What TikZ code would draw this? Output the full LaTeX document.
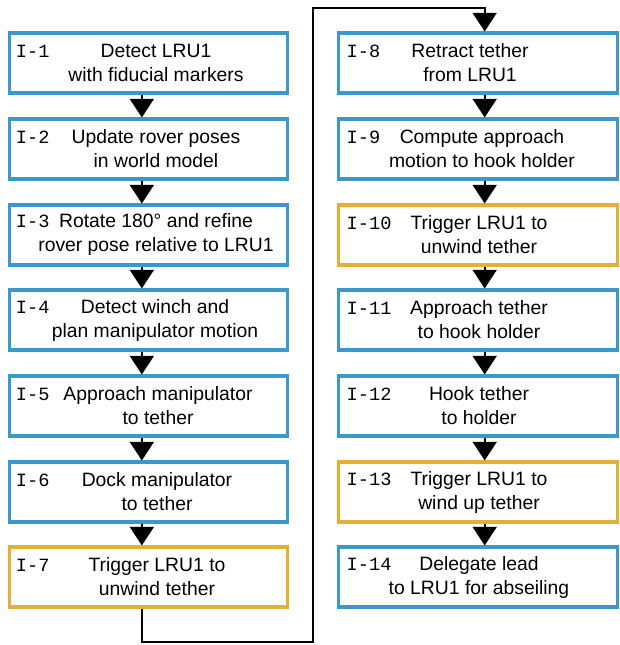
\documentclass[tikz,border=0pt]{standalone}
\usepackage{fontspec}
\setmainfont{Liberation Sans}
\setmonofont{Liberation Mono}
\usetikzlibrary{arrows.meta}
\definecolor{stepblue}{RGB}{58,152,204}
\definecolor{stepgold}{RGB}{228,176,52}
\begin{document}
\begin{tikzpicture}[x=0.75pt,y=-0.75pt,
  stepbox/.style={draw=stepblue,line width=2.3pt,minimum width=209pt,minimum height=45pt,inner sep=0pt},
  trigbox/.style={stepbox,draw=stepgold},
  steptxt/.style={align=center,inner sep=0pt,font=\fontsize{14.5}{18}\selectfont},
  steplbl/.style={anchor=base west,inner sep=0pt,font=\fontsize{14}{18}\ttfamily},
  flow/.style={line width=1.5pt,-{Triangle[width=18pt,length=14pt]}}]
\useasboundingbox (0,0) rectangle (619,645);
% left column
\node[stepbox] (b1) at (148.5,63) {}; \node[steptxt] (t1) at (156,63) {Detect LRU1\\with fiducial markers};
\node[stepbox] (b2) at (148.5,149) {}; \node[steptxt] (t2) at (156,149) {Update rover poses\\in world model};
\node[stepbox] (b3) at (148.5,235) {}; \node[steptxt] (t3) at (156,235) {Rotate 180° and refine\\rover pose relative to LRU1};
\node[stepbox] (b4) at (148.5,320) {}; \node[steptxt] (t4) at (155,320) {Detect winch and\\plan manipulator motion};
\node[stepbox] (b5) at (148.5,406) {}; \node[steptxt] (t5) at (158,406) {Approach manipulator\\to tether};
\node[stepbox] (b6) at (148.5,492) {}; \node[steptxt] (t6) at (157,492) {Dock manipulator\\to tether};
\node[trigbox] (b7) at (148.5,577) {}; \node[steptxt] (t7) at (157,577) {Trigger LRU1 to\\unwind tether};
% right column
\node[stepbox] (b8) at (478,63) {}; \node[steptxt] (t8) at (470,63) {Retract tether\\from LRU1};
\node[stepbox] (b9) at (478,149) {}; \node[steptxt] (t9) at (482,149) {Compute approach\\motion to hook holder};
\node[trigbox] (b10) at (478,235) {}; \node[steptxt] (t10) at (479,235) {Trigger LRU1 to\\unwind tether};
\node[stepbox] (b11) at (478,320) {}; \node[steptxt] (t11) at (479,320) {Approach tether\\to hook holder};
\node[stepbox] (b12) at (478,406) {}; \node[steptxt] (t12) at (479,406) {Hook tether\\to holder};
\node[trigbox] (b13) at (478,492) {}; \node[steptxt] (t13) at (479,492) {Trigger LRU1 to\\wind up tether};
\node[stepbox] (b14) at (478,577) {}; \node[steptxt] (t14) at (479,577) {Delegate lead\\to LRU1 for abseiling};
% step ids, on the first text line
\node[steplbl] (l1) at ([xshift=6pt,yshift=18pt]t1.base -| b1.west) {I-1}; \node[steplbl] (l2) at ([xshift=6pt,yshift=18pt]t2.base -| b2.west) {I-2};
\node[steplbl] (l3) at ([xshift=6pt,yshift=18pt]t3.base -| b3.west) {I-3}; \node[steplbl] (l4) at ([xshift=6pt,yshift=18pt]t4.base -| b4.west) {I-4};
\node[steplbl] (l5) at ([xshift=6pt,yshift=18pt]t5.base -| b5.west) {I-5}; \node[steplbl] (l6) at ([xshift=6pt,yshift=18pt]t6.base -| b6.west) {I-6};
\node[steplbl] (l7) at ([xshift=6pt,yshift=18pt]t7.base -| b7.west) {I-7}; \node[steplbl] (l8) at ([xshift=7pt,yshift=18pt]t8.base -| b8.west) {I-8};
\node[steplbl] (l9) at ([xshift=7pt,yshift=18pt]t9.base -| b9.west) {I-9}; \node[steplbl] (l10) at ([xshift=7pt,yshift=18pt]t10.base -| b10.west) {I-10};
\node[steplbl] (l11) at ([xshift=7pt,yshift=18pt]t11.base -| b11.west) {I-11}; \node[steplbl] (l12) at ([xshift=7pt,yshift=18pt]t12.base -| b12.west) {I-12};
\node[steplbl] (l13) at ([xshift=7pt,yshift=18pt]t13.base -| b13.west) {I-13}; \node[steplbl] (l14) at ([xshift=7pt,yshift=18pt]t14.base -| b14.west) {I-14};
% arrows
\draw[flow] ([xshift=-5pt]b1.south) -- ([xshift=-5pt]b2.north); \draw[flow] ([xshift=-5pt]b2.south) -- ([xshift=-5pt]b3.north);
\draw[flow] ([xshift=-5pt]b3.south) -- ([xshift=-5pt]b4.north); \draw[flow] ([xshift=-5pt]b4.south) -- ([xshift=-5pt]b5.north);
\draw[flow] ([xshift=-5pt]b5.south) -- ([xshift=-5pt]b6.north); \draw[flow] ([xshift=-5pt]b6.south) -- ([xshift=-5pt]b7.north);
\coordinate (lowturn) at (313,642); \coordinate (highturn) at (313,8);
\draw[flow] ([xshift=-5pt]b7.south) |- (lowturn) -- (highturn) -| ([xshift=5pt]b8.north);
\draw[flow] ([xshift=5pt]b8.south) -- ([xshift=5pt]b9.north); \draw[flow] ([xshift=5pt]b9.south) -- ([xshift=5pt]b10.north);
\draw[flow] ([xshift=5pt]b10.south) -- ([xshift=5pt]b11.north); \draw[flow] ([xshift=5pt]b11.south) -- ([xshift=5pt]b12.north);
\draw[flow] ([xshift=5pt]b12.south) -- ([xshift=5pt]b13.north); \draw[flow] ([xshift=5pt]b13.south) -- ([xshift=5pt]b14.north);
\end{tikzpicture}
\end{document}
